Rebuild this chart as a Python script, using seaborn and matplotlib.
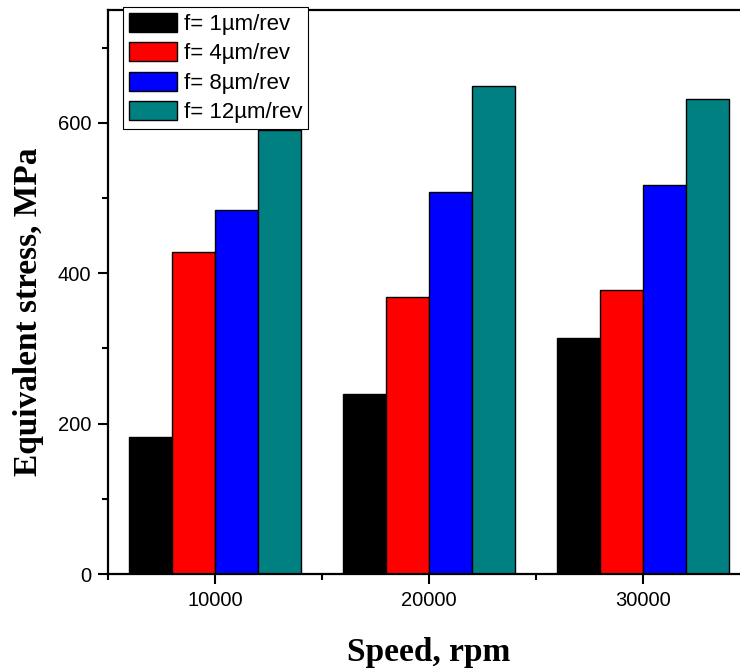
import matplotlib
matplotlib.use("Agg")
import matplotlib.pyplot as plt
from matplotlib.ticker import FixedLocator
import pandas as pd
import seaborn as sns

speeds = ["10000", "20000", "30000"]
feeds = ["f= 1µm/rev", "f= 4µm/rev", "f= 8µm/rev", "f= 12µm/rev"]
stress_f1 = [182, 239, 314]
stress_f4 = [428, 368, 377]
stress_f8 = [484, 508, 517]
stress_f12 = [590, 649, 632]
colors = ["#000000", "#FF0000", "#0000FF", "#008080"]

rows = []
for feed, vals in zip(feeds, [stress_f1, stress_f4, stress_f8, stress_f12]):
    for sp, v in zip(speeds, vals):
        rows.append({"Speed": sp, "Stress": v, "Feed": feed})
df = pd.DataFrame(rows)

sns.set_style("white")
plt.rcParams["font.family"] = ["Liberation Sans", "DejaVu Sans"]
plt.rcParams["text.color"] = "black"
plt.rcParams["axes.labelcolor"] = "black"
plt.rcParams["xtick.color"] = "black"
plt.rcParams["ytick.color"] = "black"

W, H = 740, 671
fig = plt.figure(figsize=(W / 100, H / 100), dpi=100)
left, right, top, bottom = 108, 750, 10, 574
ax = fig.add_axes([left / W, 1 - bottom / H, (right - left) / W, (bottom - top) / H])

sns.barplot(data=df, x="Speed", y="Stress", hue="Feed", order=speeds,
            hue_order=feeds, palette=colors, edgecolor="black", linewidth=1.0,
            width=0.8, gap=0, ax=ax, saturation=1)

ax.set_xlim(-0.5, 2.5)
ax.set_ylim(0, 750)
ax.set_yticks([0, 200, 400, 600])
ax.yaxis.set_minor_locator(FixedLocator([100, 300, 500, 700]))
ax.xaxis.set_minor_locator(FixedLocator([-0.5, 0.5, 1.5, 2.5]))

for s in ax.spines.values():
    s.set_linewidth(1.6)
    s.set_color("black")

ax.tick_params(axis="both", which="major", direction="out", length=7, width=1.5,
               labelsize=14.5, colors="black", pad=5)
ax.tick_params(axis="both", which="minor", direction="out", length=4, width=1.5)
ax.tick_params(axis="x", which="both", bottom=True, top=False)
ax.tick_params(axis="y", which="both", left=True, right=False)

lab_font = dict(family="Liberation Serif", weight="bold", size=24, color="black")
ax.set_xlabel("Speed, rpm", labelpad=20, **lab_font)
ax.set_ylabel("Equivalent stress, MPa", **lab_font)
ax.yaxis.set_label_coords(-0.10, 0.465)

leg = ax.legend(loc="upper left", bbox_to_anchor=((123 - left) / (right - left), (bottom - 7) / (bottom - top)),
                borderaxespad=0, fontsize=16, frameon=True, fancybox=False,
                framealpha=1, edgecolor="black", handlelength=2.2, handleheight=0.95,
                handletextpad=0.3, labelspacing=0.33, borderpad=0.25, title=None,
                labelcolor="black")
leg.get_frame().set_linewidth(0.8)

fig.savefig("out.png", dpi=100)
